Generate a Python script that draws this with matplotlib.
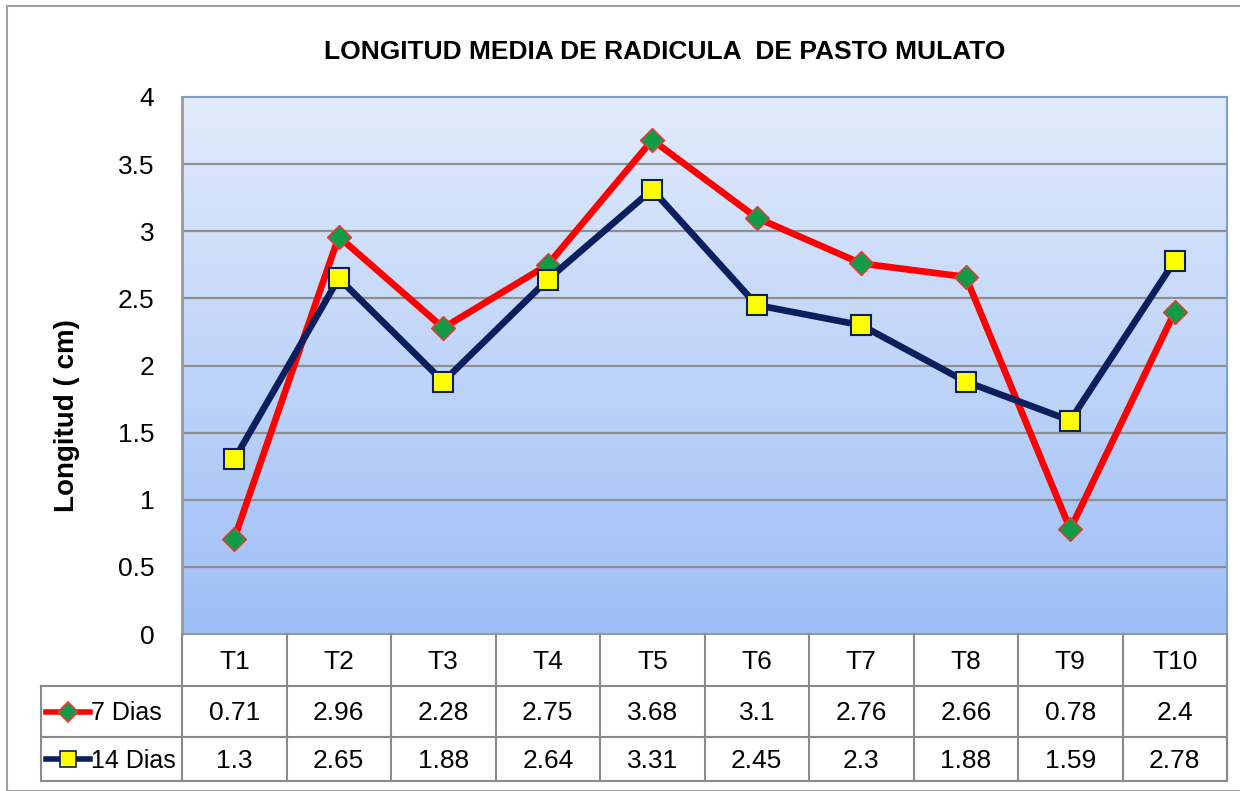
import matplotlib
matplotlib.use("Agg")
import matplotlib.pyplot as plt
import numpy as np
from matplotlib.lines import Line2D

categories = ['T1', 'T2', 'T3', 'T4', 'T5', 'T6', 'T7', 'T8', 'T9', 'T10']
dias7 = [0.71, 2.96, 2.28, 2.75, 3.68, 3.1, 2.76, 2.66, 0.78, 2.4]
dias14 = [1.3, 2.65, 1.88, 2.64, 3.31, 2.45, 2.3, 1.88, 1.59, 2.78]
dias7_txt = ['0.71', '2.96', '2.28', '2.75', '3.68', '3.1', '2.76', '2.66', '0.78', '2.4']
dias14_txt = ['1.3', '2.65', '1.88', '2.64', '3.31', '2.45', '2.3', '1.88', '1.59', '2.78']
series_names = ['7 Dias', '14 Dias']
yticks = [0, 0.5, 1, 1.5, 2, 2.5, 3, 3.5, 4]
ytick_labels = ['0', '0.5', '1', '1.5', '2', '2.5', '3', '3.5', '4']

narrow = ['Liberation Sans Narrow', 'Liberation Sans', 'DejaVu Sans']
W, H = 1240, 791
fig = plt.figure(figsize=(W / 100, H / 100), dpi=100)
fig.patch.set_facecolor('white')

# outer chart frame
fig.add_artist(plt.Rectangle((7 / W, 0), 1.5, 1 - 6 / H, transform=fig.transFigure,
                             fill=False, edgecolor='#a0a0a0', lw=1.5))

L, R, T, B = 182, 1227, 97, 634
ax = fig.add_axes([L / W, 1 - B / H, (R - L) / W, (B - T) / H])
n = len(categories)
x = np.arange(n)
ax.set_xlim(-0.5, n - 0.5)

# gradient background (light at top, blue at bottom)
grad = np.linspace(0, 1, 256).reshape(-1, 1)
top = np.array([225, 235, 252]) / 255
bot = np.array([158, 190, 246]) / 255
img = top + (bot - top) * grad[:, :, None]
ax.imshow(img, extent=[-0.5, n - 0.5, 0, 4], origin='upper', aspect='auto', zorder=0)
ax.set_ylim(0, 4)

for yv in yticks[1:-1]:
    ax.axhline(yv, color='#8f8f8f', lw=1.6, zorder=1)

ax.plot(x, dias7, color='#ff0000', lw=4.8, marker='D', markersize=12,
        markerfacecolor='#119a48', markeredgecolor='#ff3030', markeredgewidth=1, zorder=3)
ax.plot(x, dias14, color='#0b1f5e', lw=4.8, marker='s', markersize=15,
        markerfacecolor='#ffff00', markeredgecolor='#0b1f5e', markeredgewidth=1.5, zorder=3)

ax.set_yticks(yticks)
ax.set_yticklabels(ytick_labels, fontfamily=narrow, fontsize=19)
ax.tick_params(axis='y', length=0, pad=20)
ax.set_xticks([])
for side in ['top', 'right']:
    ax.spines[side].set_color('#7f9fcf')
    ax.spines[side].set_linewidth(1.5)
ax.spines['left'].set_color('#999999')
ax.spines['left'].set_linewidth(2)
ax.spines['bottom'].set_color('#999999')
ax.spines['bottom'].set_linewidth(1.5)

# data table
rows = [634, 686, 737, 781]
colw = (R - L) / n
tc = '#8a8a8a'
def fx(px):
    return px / W
def fy(py):
    return 1 - py / H
lines = []
lines.append(((41, R), (rows[1], rows[1])))
lines.append(((41, R), (rows[2], rows[2])))
lines.append(((41, R), (rows[3], rows[3])))
for i in range(n + 1):
    lines.append(((L + i * colw, L + i * colw), (rows[0], rows[3])))
lines.append(((41, 41), (rows[1], rows[3])))
for (xs, ys) in lines:
    fig.add_artist(Line2D([fx(xs[0]), fx(xs[1])], [fy(ys[0]), fy(ys[1])],
                          transform=fig.transFigure, color=tc, lw=1.5))

for i, c in enumerate(categories):
    cx = fx(L + (i + 0.5) * colw)
    fig.text(cx, fy((rows[0] + rows[1]) / 2 + 2), c, ha='center', va='center',
             fontsize=19, fontfamily=narrow)
    fig.text(cx, fy((rows[1] + rows[2]) / 2 + 2), dias7_txt[i], ha='center', va='center',
             fontsize=19, fontfamily=narrow)
    fig.text(cx, fy((rows[2] + rows[3]) / 2 + 2), dias14_txt[i], ha='center', va='center',
             fontsize=19, fontfamily=narrow)

# legend keys in table
for r, (name, col, mk, mfc, mec, ms) in enumerate([
        (series_names[0], '#ff0000', 'D', '#119a48', '#ff3030', 10),
        (series_names[1], '#0b1f5e', 's', '#ffff00', '#0b1f5e', 12)]):
    yc = fy((rows[r + 1] + rows[r + 2]) / 2)
    fig.add_artist(Line2D([fx(46), fx(90)], [yc, yc], transform=fig.transFigure,
                          color=col, lw=4))
    fig.add_artist(Line2D([fx(68)], [yc], transform=fig.transFigure, marker=mk,
                          markersize=ms, markerfacecolor=mfc, markeredgecolor=mec,
                          markeredgewidth=1.2))
    fig.text(fx(91), fy((rows[r + 1] + rows[r + 2]) / 2 + 2), name, ha='left',
             va='center', fontsize=18, fontfamily=narrow)

fig.text(fx(665), fy(52), 'LONGITUD MEDIA DE RADICULA  DE PASTO MULATO', ha='center',
         va='center', fontsize=19, fontweight='bold', fontfamily=narrow)
fig.text(fx(67), fy(416), 'Longitud ( cm)', rotation=90, ha='center', va='center',
         fontsize=20, fontweight='bold', fontfamily=['Liberation Sans', 'DejaVu Sans'])

fig.savefig('out.png', dpi=100)
